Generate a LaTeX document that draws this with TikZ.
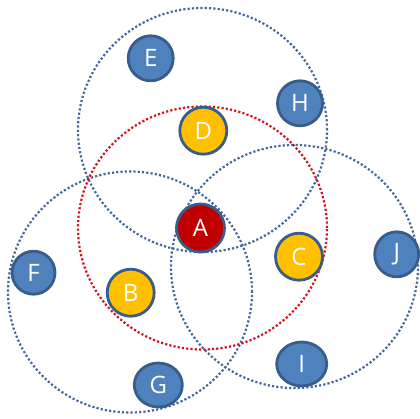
\documentclass[tikz,border=0pt]{standalone}
\usepackage{fontspec}
\setmainfont{Open Sans}
\usepackage{xcolor}
\definecolor{PeerBlue}{HTML}{4F81BD}
\definecolor{PeerEdge}{HTML}{385D8A}
\definecolor{NearGold}{HTML}{FFC000}
\definecolor{HubRed}{HTML}{C00000}
\definecolor{ZoneBlue}{HTML}{45699B}
\definecolor{ZoneRed}{HTML}{D4141C}
\usepackage{tikz}
\usetikzlibrary{shapes.geometric}

\begin{document}
\begin{tikzpicture}[
  x=1pt, y=-1pt,
  font=\fontsize{24}{24}\selectfont,
  peer/.style={ellipse, draw=PeerEdge, line width=2.8pt, fill=PeerBlue,
               text=white, inner sep=0pt, minimum width=45pt, minimum height=45pt},
  near/.style={peer, fill=NearGold, minimum width=47pt, minimum height=47pt},
  hub/.style={peer, fill=HubRed, minimum width=48pt, minimum height=48pt},
  zone/.style={draw=ZoneBlue, line width=2.2pt, dash pattern=on 2.2pt off 2.1pt},
  redzone/.style={zone, draw=ZoneRed}
]
  \useasboundingbox (0,0) rectangle (420,418);
  % ranges
  \draw[zone] (202.5,130) ellipse (124.5pt and 122pt);
  \draw[zone] (130,292) ellipse (122pt and 120.5pt);
  \draw[zone] (294.5,266.5) ellipse (123.5pt and 121.5pt);
  \draw[redzone] (202.5,228) ellipse (124.5pt and 121.5pt);
  % stations
  \node[peer] (e) at (150.7,58.3) {E};
  \node[peer] (h) at (300,103.3) {H};
  \node[near] (d) at (203.3,130.7) {D};
  \node[hub] (a) at (200.5,228) {A};
  \node[near] (c) at (299,256.7) {C};
  \node[peer, minimum width=44pt] (j) at (396.7,254.3) {J};
  \node[peer, minimum width=43pt, minimum height=43pt] (f) at (33.5,272.7) {F};
  \node[near] (b) at (130.7,292.7) {B};
  \node[peer, minimum width=48pt, minimum height=44pt] (g) at (158.3,385) {G};
  \node[peer, minimum width=50pt, minimum height=44pt] (i) at (301.7,364) {I};
\end{tikzpicture}
\end{document}
